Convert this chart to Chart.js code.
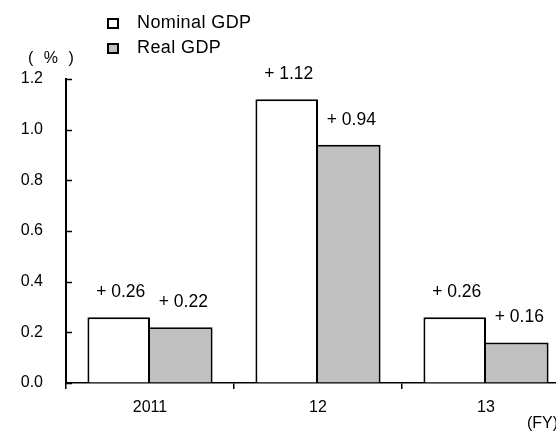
<!DOCTYPE html>
<html>
<head>
<meta charset="utf-8">
<script src="https://cdn.jsdelivr.net/npm/chart.js@4.4.1/dist/chart.umd.min.js"></script>
<style>
  html, body { margin: 0; padding: 0; background: #fff; overflow: hidden; }
  #wrap { width: 576px; height: 433px; position: relative; }
</style>
</head>
<body>
<div id="wrap"><canvas id="c"></canvas></div>
<script>
// Fiscal years and GDP growth contributions (%)
const fiscalYears = ['2011', '12', '13'];
const nominalGDP = [0.26, 1.12, 0.26];
const realGDP = [0.22, 0.94, 0.16];
const seriesNames = ['Nominal GDP', 'Real GDP'];
const yTicks = [0.0, 0.2, 0.4, 0.6, 0.8, 1.0, 1.2];

const FONT = '"Liberation Sans", Arial, sans-serif';

// Value labels above bars, y-axis inward ticks, legend and unit captions
const annotate = {
  id: 'annotate',
  afterDatasetsDraw(chart) {
    const ctx = chart.ctx;
    const y = chart.scales.y;
    const area = chart.chartArea;
    ctx.save();
    // inward ticks on the value axis
    ctx.strokeStyle = '#000';
    ctx.lineWidth = 1.5;
    yTicks.forEach(v => {
      const py = Math.round(y.getPixelForValue(v)) + 0.5;
      ctx.beginPath();
      ctx.moveTo(area.left, py);
      ctx.lineTo(area.left + 6, py);
      ctx.stroke();
    });
    // value labels
    ctx.fillStyle = '#000';
    ctx.font = '17.5px ' + FONT;
    ctx.textAlign = 'center';
    ctx.textBaseline = 'middle';
    chart.data.datasets.forEach((ds, i) => {
      const meta = chart.getDatasetMeta(i);
      meta.data.forEach((bar, j) => {
        const v = ds.data[j];
        ctx.fillText('+ ' + v.toFixed(2), bar.x + 2, bar.y - 25);
      });
    });
    // legend
    const fills = ['#ffffff', '#c0c0c0'];
    ctx.font = '18px ' + FONT;
    ctx.letterSpacing = '0.4px';
    ctx.textAlign = 'left';
    seriesNames.forEach((name, i) => {
      const ly = 23 + i * 25;
      ctx.fillStyle = fills[i];
      ctx.fillRect(108, ly - 4, 10, 9);
      ctx.strokeStyle = '#000';
      ctx.lineWidth = 2;
      ctx.strokeRect(108, ly - 4, 10, 9);
      ctx.fillStyle = '#000';
      ctx.fillText(name, 137, ly);
    });
    // unit captions
    ctx.font = '16px ' + FONT;
    ctx.letterSpacing = '3px';
    ctx.fillText('( % )', 28, 59);
    ctx.letterSpacing = '0px';
    ctx.fillText('(FY)', 527, 424);
    ctx.restore();
  }
};

new Chart(document.getElementById('c'), {
  type: 'bar',
  data: {
    labels: fiscalYears,
    datasets: [
      {
        label: seriesNames[0],
        data: nominalGDP,
        backgroundColor: '#ffffff',
        borderColor: '#000000',
        borderWidth: { top: 2, left: 2, right: 2, bottom: 0 },
        borderSkipped: false,
        categoryPercentage: 0.745,
        barPercentage: 1.0
      },
      {
        label: seriesNames[1],
        data: realGDP,
        backgroundColor: '#c0c0c0',
        borderColor: '#000000',
        borderWidth: { top: 2, left: 0, right: 2, bottom: 0 },
        borderSkipped: false,
        categoryPercentage: 0.745,
        barPercentage: 1.0
      }
    ]
  },
  options: {
    responsive: true,
    maintainAspectRatio: false,
    animation: false,
    devicePixelRatio: 1,
    layout: { padding: { top: 79, right: 6, bottom: 0, left: 0 } },
    plugins: {
      legend: { display: false },
      tooltip: { enabled: false }
    },
    scales: {
      x: {
        offset: true,
        grid: {
          offset: true,
          drawOnChartArea: false,
          drawTicks: true,
          tickLength: 6,
          color: '#000',
          lineWidth: 1.5
        },
        border: { color: '#000', width: 1.5 },
        ticks: {
          color: '#000',
          font: { family: FONT, size: 16 },
          padding: 9,
          maxRotation: 0
        },
        afterFit(scale) { scale.height = 50; }
      },
      y: {
        min: 0,
        max: 1.2,
        afterBuildTicks(scale) {
          scale.ticks = yTicks.map(v => ({ value: v }));
        },
        grid: { display: true, drawOnChartArea: false, drawTicks: false },
        border: { color: '#000', width: 2 },
        ticks: {
          color: '#000',
          font: { family: FONT, size: 16 },
          padding: 23,
          callback: v => Number(v).toFixed(1)
        },
        afterFit(scale) { scale.width = 66; }
      }
    }
  },
  plugins: [annotate]
});
</script>
</body>
</html>
